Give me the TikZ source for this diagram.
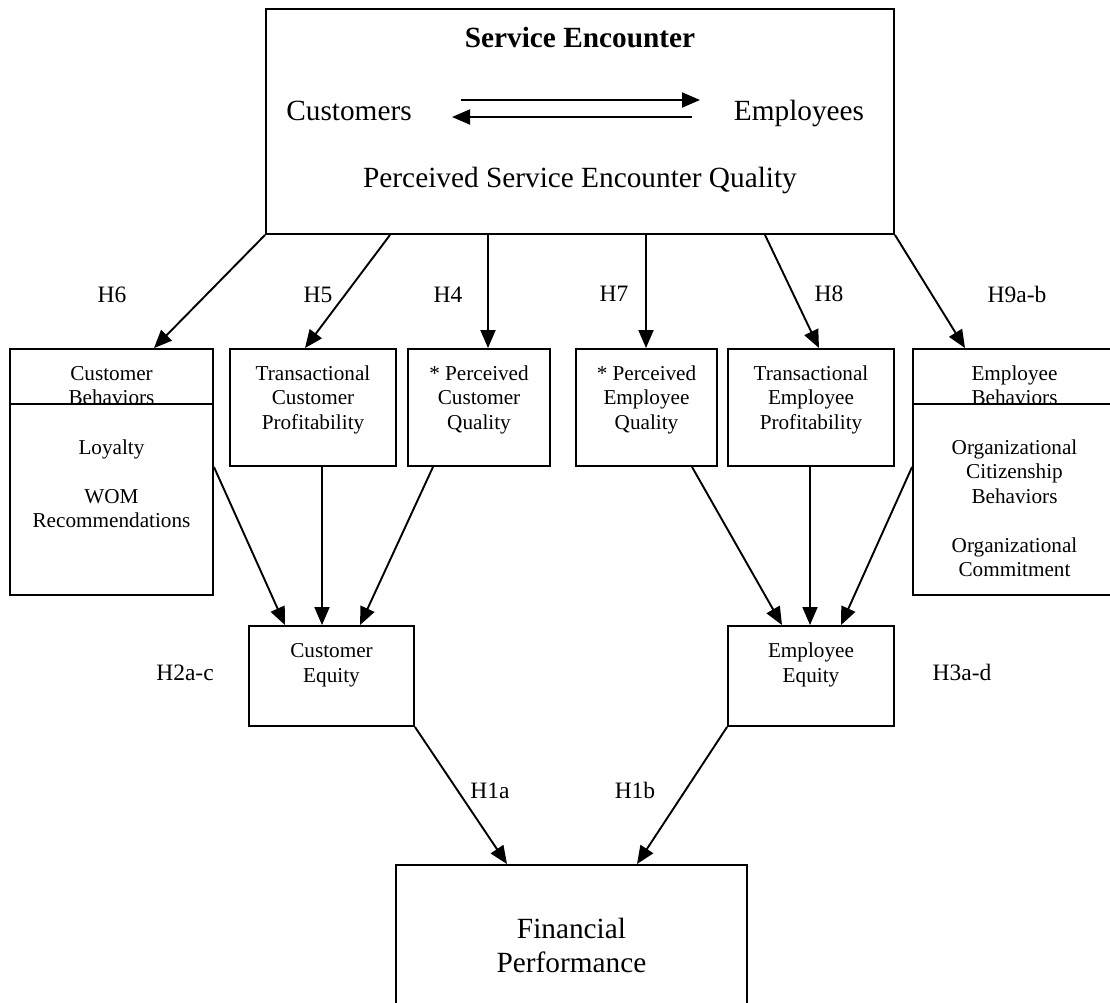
\documentclass[tikz,border=0pt]{standalone}
\usepackage{fontspec}
\setmainfont{Liberation Serif}
\usetikzlibrary{arrows.meta}
\newcommand\fsmall{\fontsize{21.2}{24.5}\selectfont}
\newcommand\flarge{\fontsize{29.3}{34}\selectfont}
\newcommand\fhyp{\fontsize{23.5}{28}\selectfont}
\tikzset{
  box/.style={draw, line width=1.9pt, rectangle, inner sep=0pt},
  conn/.style={line width=1.9pt, -{Triangle[length=18pt,width=15pt]}},
  small/.style={font=\fsmall, align=center, inner sep=0pt, anchor=base},
  large/.style={font=\flarge, align=center, inner sep=0pt, anchor=base},
  hyp/.style={font=\fhyp, inner sep=0pt, anchor=base},
}
\begin{document}
\begin{tikzpicture}[x=1pt,y=-1pt]
\useasboundingbox (0,0) rectangle (1110,1002);
\clip (0,0) rectangle (1110,1002);
% top box
\node[box, minimum width=628pt, minimum height=225pt] (top) at (580,121.5) {};
\node[large, font=\flarge\bfseries] (se) at (580,47) {Service Encounter};
\node[large] (cust) at (349,120) {Customers};
\node[large] (emp) at (799,120) {Employees};
\node[large] (pseq) at (580,187) {Perceived Service Encounter Quality};
\coordinate (ua1) at (461,100);
\coordinate (ua2) at (700,100);
\coordinate (la1) at (692,117);
\coordinate (la2) at (452,117);
\draw[conn] (ua1) -- (ua2);
\draw[conn] (la1) -- (la2);
% second row boxes
\node[box, minimum width=203pt, minimum height=246pt] (cb) at (111.5,472) {};
\node[box, minimum width=166pt, minimum height=117pt] (tcp) at (313,407.5) {};
\node[box, minimum width=142pt, minimum height=117pt] (pcq) at (479,407.5) {};
\node[box, minimum width=141pt, minimum height=117pt] (peq) at (646.5,407.5) {};
\node[box, minimum width=166pt, minimum height=117pt] (tep) at (811,407.5) {};
\node[box, minimum width=203pt, minimum height=246pt] (eb) at (1014.5,472) {};
\draw[line width=1.9pt] ([yshift=-56pt]cb.north west) -- ([yshift=-56pt]cb.north east);
\draw[line width=1.9pt] ([yshift=-56pt]eb.north west) -- ([yshift=-56pt]eb.north east);
% texts (anchor at baseline of last line)
\node[small] (cbt) at (111.5,404.5) {Customer\\Behaviors};
\node[small] (cbl) at (111.5,527.5) {Loyalty\\[24.5pt]WOM\\Recommendations};
\node[small] (tcpt) at (313,429) {Transactional\\Customer\\Profitability};
\node[small] (pcqt) at (479,429) {* Perceived\\Customer\\Quality};
\node[small] (peqt) at (646.5,429) {* Perceived\\Employee\\Quality};
\node[small] (tept) at (811,429) {Transactional\\Employee\\Profitability};
\node[small] (ebt) at (1014.5,404.5) {Employee\\Behaviors};
\node[small] (ebl) at (1014.5,576.5) {Organizational\\Citizenship\\Behaviors\\[24.5pt]Organizational\\Commitment};
% equity boxes
\node[box, minimum width=165pt, minimum height=100pt] (ce) at (331.5,676) {};
\node[box, minimum width=166pt, minimum height=100pt] (ee) at (811,676) {};
\node[small] (cet) at (331.5,682) {Customer\\Equity};
\node[small] (eet) at (811,682) {Employee\\Equity};
% financial performance
\node[box, minimum width=351pt, minimum height=147pt] (fp) at (571.5,938.5) {};
\node[large] (fpt) at (571.5,972) {Financial\\Performance};
% top arrows
\draw[conn] (top.south west) -- ([xshift=42.5pt]cb.north);
\draw[conn] ([xshift=-190pt]top.south) -- ([xshift=-8pt]tcp.north);
\draw[conn] ([xshift=-92pt]top.south) -- ([xshift=9pt]pcq.north);
\draw[conn] ([xshift=66pt]top.south) -- ([xshift=-0.5pt]peq.north);
\draw[conn] ([xshift=185pt]top.south) -- ([xshift=8pt]tep.north);
\draw[conn] (top.south east) -- ([xshift=-49.5pt]eb.north);
% arrows to equity
\draw[conn] (cb.east |- tcp.south) -- ([xshift=-46.5pt]ce.north);
\draw[conn] ([xshift=9pt]tcp.south) -- ([xshift=-9.5pt]ce.north);
\draw[conn] ([xshift=-46pt]pcq.south) -- ([xshift=28.5pt]ce.north);
\draw[conn] ([xshift=45.5pt]peq.south) -- ([xshift=-29pt]ee.north);
\draw[conn] ([xshift=-1pt]tep.south) -- ([xshift=-1pt]ee.north);
\draw[conn] (eb.west |- tep.south) -- ([xshift=30pt]ee.north);
% arrows to financial performance
\draw[conn] (ce.south east) -- ([xshift=-64.5pt]fp.north);
\draw[conn] (ee.south west) -- ([xshift=65.5pt]fp.north);
% hypothesis labels
\node[hyp] (h6) at (112,302) {H6};
\node[hyp] (h5) at (318,302) {H5};
\node[hyp] (h4) at (448,302) {H4};
\node[hyp] (h7) at (614,301) {H7};
\node[hyp] (h8) at (829,301) {H8};
\node[hyp] (h9) at (1017,302) {H9a-b};
\node[hyp] (h2) at (185,680) {H2a-c};
\node[hyp] (h3) at (962,680) {H3a-d};
\node[hyp] (h1a) at (490,798) {H1a};
\node[hyp] (h1b) at (635,798) {H1b};
\end{tikzpicture}
\end{document}
